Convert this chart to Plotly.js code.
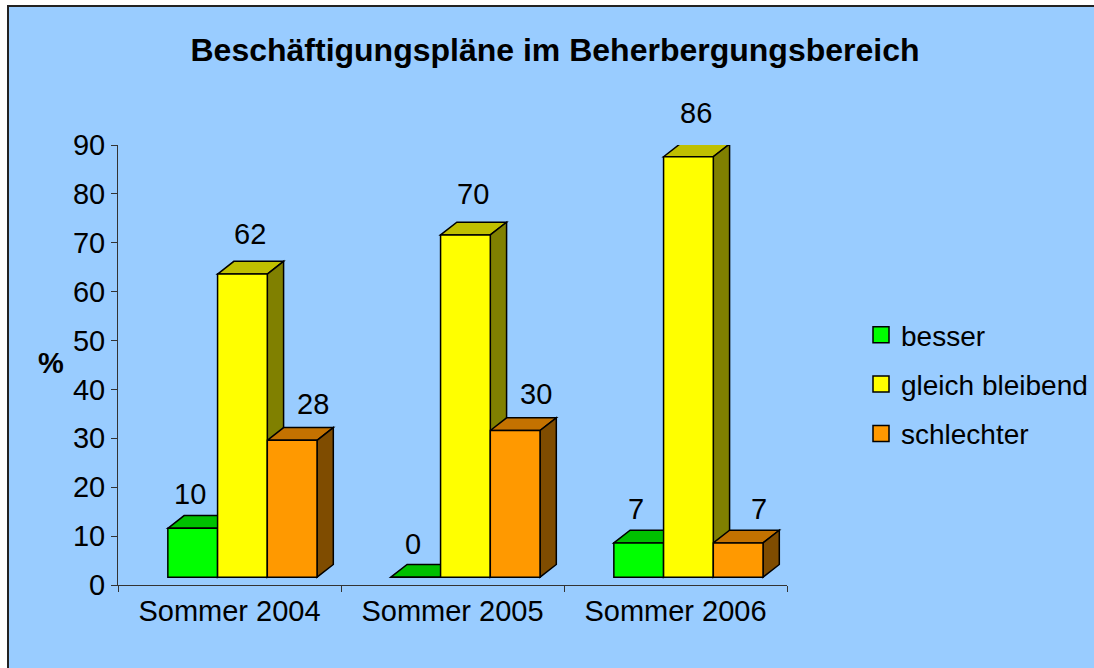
<!DOCTYPE html>
<html>
<head>
<meta charset="utf-8">
<script src="https://cdn.plot.ly/plotly-3.0.1.min.js"></script>
<style>html,body{margin:0;padding:0;background:#fff;}#chart{width:1094px;height:668px;}</style>
</head>
<body>
<div id="chart"></div>
<script>
// ---- data ----
const categories = ["Sommer 2004", "Sommer 2005", "Sommer 2006"];
const seriesNames = ["besser", "gleich bleibend", "schlechter"];
const besser = [10, 0, 7];
const gleichBleibend = [62, 70, 86];
const schlechter = [28, 30, 7];
const yTickVals = [0, 10, 20, 30, 40, 50, 60, 70, 80, 90];

// ---- styles ----
const seriesValues = [besser, gleichBleibend, schlechter];
const frontColors = ["#00FF00", "#FFFF00", "#FF9900"];
const topColors = ["#00C000", "#C0C000", "#C47200"];
const sideColors = ["#008000", "#808000", "#7F4C00"];
const barWidth = 0.223;
const offsets = [-0.2765, -0.0535, 0.1695];
const baseLift = 1.6;      // front face floor offset (3D look)
const depthX = 0.073;      // depth in x units
const depthY = 2.6;        // depth in y units
const pxPerUnitY = 440 / 90;
const labelShift = [-3, 8, 21];
const FONT = "Liberation Sans, Arial, sans-serif";
const xIdx = categories.map((c, i) => i);

const traces = [];
const shapes = [];
const annotations = [];

// outer chart background with border
shapes.push({
  type: "rect", xref: "paper", yref: "paper",
  x0: (8 - 118) / 669, x1: (1100 - 118) / 669,
  y0: (585 - 672) / 440, y1: (585 - 6) / 440,
  fillcolor: "#99CCFF", line: {color: "#222", width: 2}, layer: "below"
});

seriesValues.forEach((vals, k) => {
  traces.push({
    type: "bar", x: xIdx, y: vals, base: baseLift,
    width: barWidth, offset: offsets[k],
    marker: {color: frontColors[k], line: {color: "#000", width: 1.5}},
    showlegend: false, hoverinfo: "skip", name: seriesNames[k]
  });
  vals.forEach((v, i) => {
    const xl = i + offsets[k], xr = xl + barWidth;
    const yb = baseLift, yt = baseLift + v;
    shapes.push({
      type: "path", xref: "x", yref: "y", layer: "below",
      path: `M${xl},${yt} L${xl + depthX},${yt + depthY} L${xr + depthX},${yt + depthY} L${xr},${yt} Z`,
      fillcolor: topColors[k], line: {color: "#000", width: 1.5}
    });
    shapes.push({
      type: "path", xref: "x", yref: "y", layer: "below",
      path: `M${xr},${yb} L${xr},${yt} L${xr + depthX},${yt + depthY} L${xr + depthX},${yb + depthY} Z`,
      fillcolor: sideColors[k], line: {color: "#000", width: 1.5}
    });
    annotations.push({
      x: xl + barWidth / 2, y: v, xref: "x", yref: "y",
      xshift: labelShift[k], yshift: (v * 0.025 + 8.3) * pxPerUnitY,
      text: String(v), showarrow: false,
      xanchor: "center", yanchor: "middle",
      font: {family: FONT, size: 29, color: "#000"}
    });
  });
  // legend entry
  traces.push({
    type: "scatter", x: [null], y: [null], mode: "markers", name: seriesNames[k],
    legendgroup: "g" + k,
    marker: {symbol: "square", size: 16, color: frontColors[k], line: {color: "#000", width: 1.5}},
    hoverinfo: "skip"
  });
});

annotations.push({
  xref: "paper", yref: "paper", x: (51 - 118) / 669, y: (585 - 363) / 440,
  text: "<b>%</b>", showarrow: false, xanchor: "center", yanchor: "middle",
  font: {family: FONT, size: 29, color: "#000"}
});

const layout = {
  width: 1094, height: 668,
  margin: {l: 118, r: 307, t: 145, b: 83, pad: 0, autoexpand: false},
  paper_bgcolor: "#FFFFFF", plot_bgcolor: "rgba(0,0,0,0)",
  title: {
    text: "<b>Beschäftigungspläne im Beherbergungsbereich</b>",
    font: {family: FONT, size: 32, color: "#000"},
    x: 555 / 1094, xanchor: "center", xref: "container",
    y: 1 - 50 / 668, yanchor: "middle", yref: "container"
  },
  xaxis: {
    range: [-0.5, 2.5], tickmode: "array", tickvals: xIdx, ticktext: categories,
    ticks: "", showline: true, linecolor: "#333", linewidth: 1,
    showgrid: false, zeroline: false, fixedrange: true, automargin: false,
    tickfont: {family: FONT, size: 29, color: "#000"},
    minor: {tickmode: "array", tickvals: [-0.5, 0.5, 1.5, 2.5], ticks: "outside", ticklen: 6, tickcolor: "#333", tickwidth: 1, showgrid: false}
  },
  yaxis: {
    range: [0, 90], tickmode: "array", tickvals: yTickVals,
    ticks: "outside", ticklen: 6, tickcolor: "#333", tickwidth: 1,
    showline: true, linecolor: "#333", linewidth: 1,
    showgrid: false, zeroline: false, fixedrange: true, automargin: false,
    tickfont: {family: FONT, size: 29, color: "#000"}
  },
  showlegend: true,
  legend: {
    xref: "container", yref: "container",
    x: 861 / 1094, xanchor: "left", y: 1 - 310 / 668, yanchor: "top",
    bgcolor: "rgba(0,0,0,0)", borderwidth: 0, tracegroupgap: 10,
    font: {family: FONT, size: 28, color: "#000"}
  },
  barmode: "overlay",
  shapes: shapes, annotations: annotations
};

Plotly.newPlot("chart", traces, layout, {displayModeBar: false, staticPlot: true});
</script>
</body>
</html>
